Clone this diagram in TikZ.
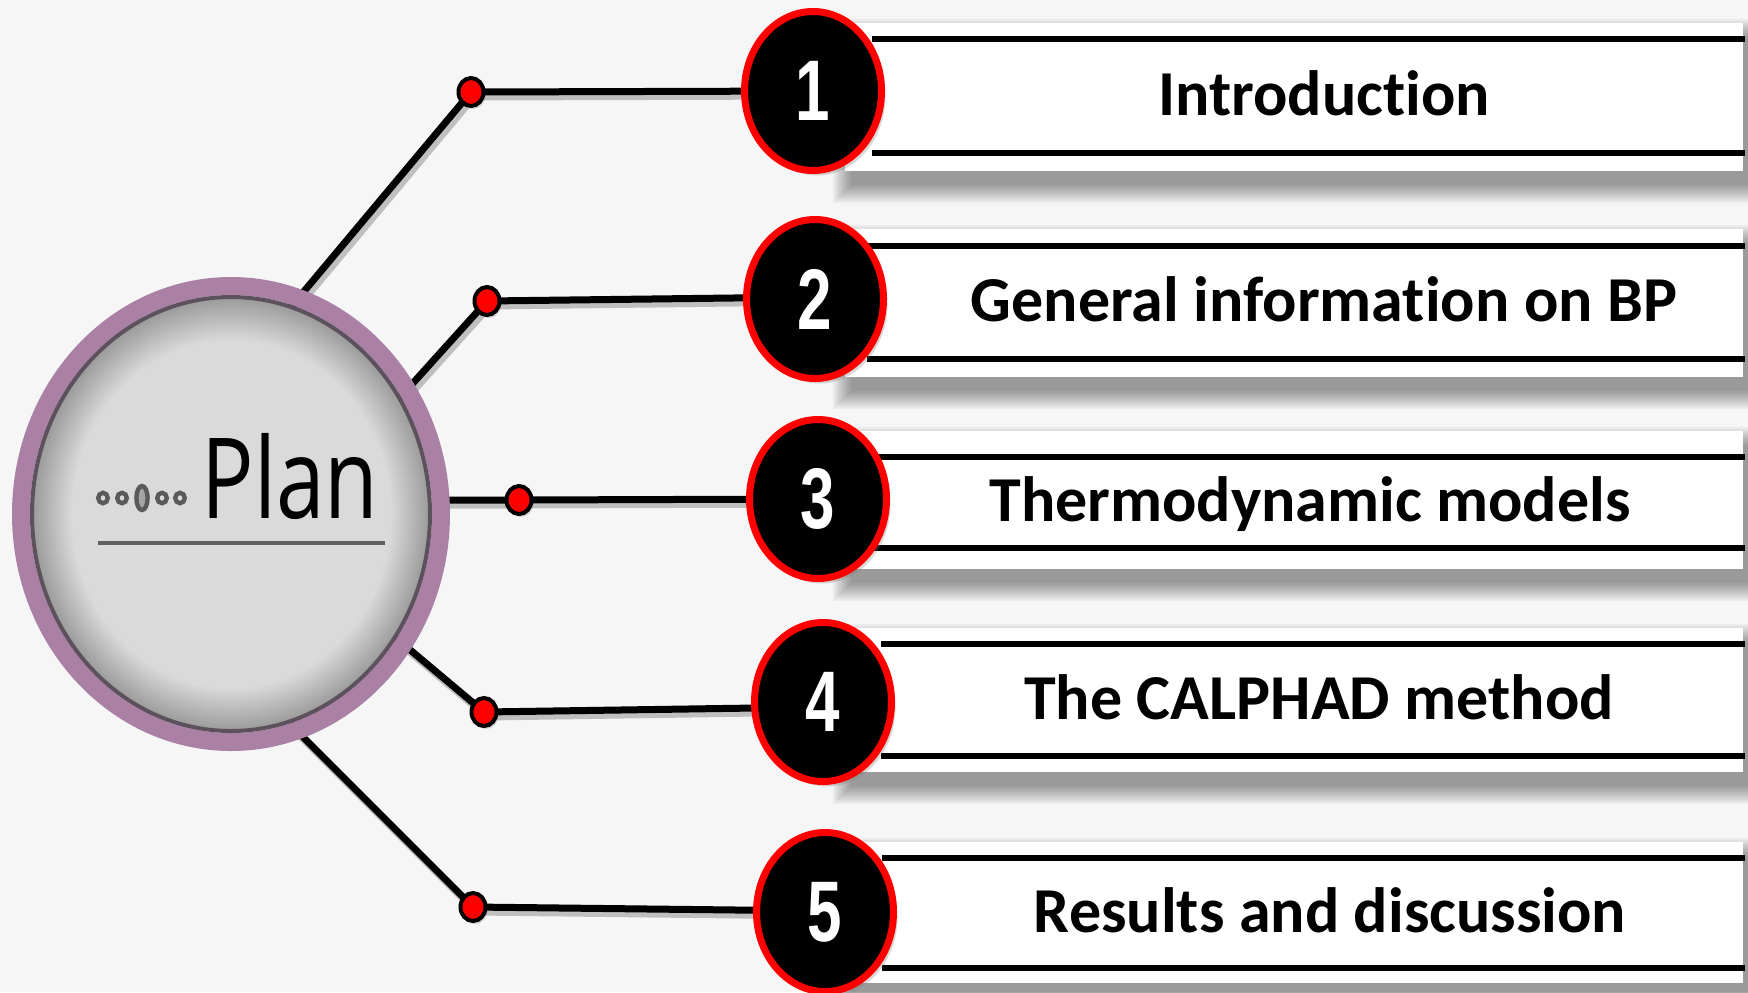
\documentclass[tikz,border=0pt]{standalone}
\usepackage{fontspec}
\usepackage{graphicx}
\usetikzlibrary{shapes.geometric,shadows}
\setmainfont{Carlito}[Ligatures={NoCommon,NoContextual}]
\newfontfamily\numfont{Liberation Sans}
\newfontfamily\planfont{Open Sans}
\definecolor{bgc}{HTML}{F6F6F6}
\definecolor{ringc}{HTML}{AA80A5}
\definecolor{innerb}{HTML}{5C515C}
\definecolor{pgray}{HTML}{DADADA}
\definecolor{pdark}{HTML}{9A9A9A}
\definecolor{dotc}{HTML}{5A5A5A}
\definecolor{ulc}{HTML}{606060}
\definecolor{bigdot}{HTML}{A5A5A5}
\pgfdeclareradialshading{planshade}{\pgfpoint{0bp}{0bp}}{color(0bp)=(pgray); color(20bp)=(pgray); color(25bp)=(pdark); color(50bp)=(pdark)}
\pgfdeclarelayer{bg}
\pgfdeclarelayer{lines}
\pgfsetlayers{bg,lines,main}
\newcommand\mybar[5]{%
  \begin{pgfonlayer}{bg}
    \foreach \e in {0,2,...,18}
      \fill[black,opacity=0.045] (851-\e,#1+14-\e) rectangle (1750+\e,#2+14+\e);
  \end{pgfonlayer}
  \fill[white] (845,#1) rectangle (1743,#2);
  \draw[barline] (#5,#3) -- (1745,#3);
  \draw[barline] (#5,#4) -- (1745,#4);
}
\begin{document}
\begin{tikzpicture}[x=0.5pt,y=-0.5pt,
  numc/.style={ellipse, draw=red, line width=3.5pt, fill=black,
    minimum width=68.5pt, minimum height=79.5pt, inner sep=0pt, text=white,
    font={\numfont\bfseries\fontsize{43pt}{43pt}\selectfont},
    drop shadow={shadow xshift=2pt, shadow yshift=-2.5pt, opacity=0.3}},
  dotn/.style={ellipse, draw=black, line width=2pt, fill=red,
    minimum width=12.5pt, minimum height=14pt, inner sep=0pt,
    drop shadow={shadow xshift=1pt, shadow yshift=-1.5pt, opacity=0.3}},
  ln/.style={line width=3.5pt, black, line join=round},
  lnsh/.style={line width=3.5pt, black, opacity=0.22, line join=round,
    transform canvas={xshift=1.5pt,yshift=-2.5pt}},
  barline/.style={line width=3pt, black},
  bartext/.style={font={\bfseries\fontsize{32pt}{32pt}\selectfont}, anchor=base, inner sep=0pt}]
\useasboundingbox (0,0) rectangle (1748,992);
\begin{pgfonlayer}{bg}
  \fill[bgc] (0,0) rectangle (1748,992);
\end{pgfonlayer}

% bars
\mybar{23}{171}{39}{153}{872}
\mybar{229}{377}{246}{359}{867}
\mybar{431}{569}{457}{548}{873}
\mybar{628}{772}{644}{756}{881}
\mybar{842}{983}{858}{968}{882}

% big circle
\node[ellipse, draw=ringc, line width=9pt, minimum width=210pt,
  minimum height=228pt, inner sep=0pt] (plan) at (231,514) {};
\shade[shading=planshade] (plan.center) ellipse [x radius=99.5pt, y radius=108.5pt];
\draw[innerb, line width=2pt] (plan.center) ellipse [x radius=99.5pt, y radius=108.5pt];
\draw[ulc, line width=2pt] (98,543) -- (385,543);
\foreach \x in {103,122,162,180}
  \draw[dotc, line width=2.2pt, fill=pgray] (\x,498) ellipse [x radius=2.4pt, y radius=2.6pt];
\draw[dotc, line width=2.2pt, fill=bigdot] (142,498) ellipse [x radius=2.8pt, y radius=6pt];
\node[font={\planfont\fontsize{56pt}{56pt}\selectfont}, anchor=base, inner sep=0pt] (plantext) at (290,518) {\scalebox{0.78}[1]{Plan}};

% connector start points
\coordinate (c1) at (280,320);
\coordinate (c2) at (395,403);
\coordinate (c3) at (440,500);
\coordinate (c4) at (390,633);
\coordinate (c5) at (290,724);

% dots
\node[dotn] (d1) at (471,92) {};
\node[dotn] (d2) at (487,301) {};
\node[dotn] (d3) at (519,500) {};
\node[dotn] (d4) at (484,712) {};
\node[dotn] (d5) at (473,907) {};

% number circles
\node[numc] (n1) at (813,91) {\scalebox{0.72}[1]{1}};
\node[numc] (n2) at (815,299) {\scalebox{0.72}[1]{2}};
\node[numc] (n3) at (818,499) {\scalebox{0.72}[1]{3}};
\node[numc] (n4) at (823,702) {\scalebox{0.72}[1]{4}};
\node[numc] (n5) at (825,912) {\scalebox{0.72}[1]{5}};

% texts
\node[bartext] (t1) at (1324,115) {Introduct\kern0pt ion};
\node[bartext] (t2) at (1324,321) {General informat\kern0pt ion on BP};
\node[bartext] (t3) at (1310,521) {Thermodynamic models};
\node[bartext] (t4) at (1319,719) {The CALPHAD method};
\node[bartext] (t5) at (1330,932) {Results and discussion};

% connectors
\begin{pgfonlayer}{lines}
  \foreach \i/\dy in {1/0pt,2/1pt,3/0pt,4/-2.5pt,5/0.5pt} {
    \draw[lnsh] (c\i) -- (d\i.center) -- ([yshift=\dy]n\i.center);
    \draw[ln] (c\i) -- (d\i.center) -- ([yshift=\dy]n\i.center);
  }
\end{pgfonlayer}
\end{tikzpicture}
\end{document}
